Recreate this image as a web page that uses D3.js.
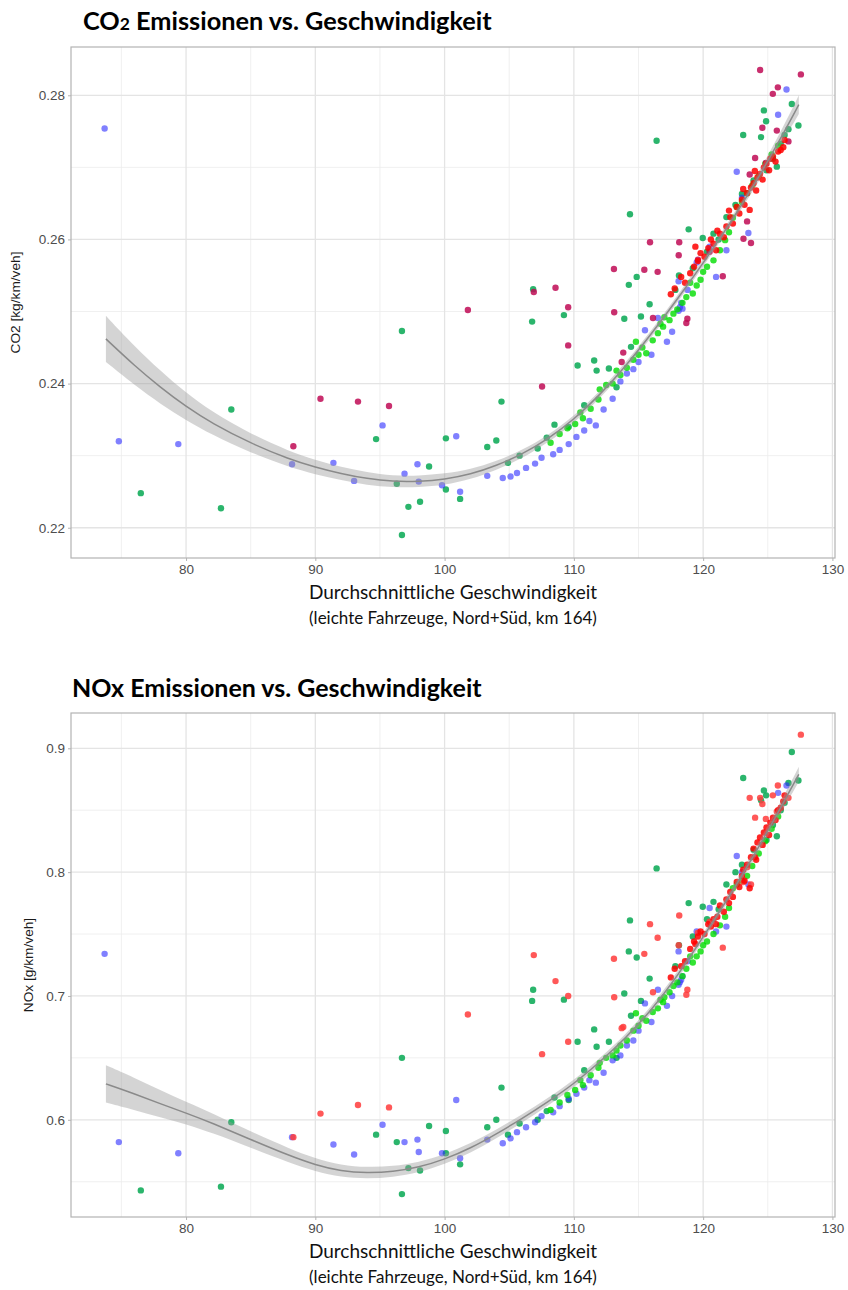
<!DOCTYPE html>
<html>
<head>
<meta charset="utf-8">
<script src="https://cdn.jsdelivr.net/npm/d3@7"></script>
<style>
  body { margin: 0; background: #fff; }
</style>
</head>
<body>
<svg id="chart" width="848" height="1290"></svg>
<script>
// each point: [speed km/h, CO2 kg/km/veh, NOx g/km/veh]
const bluePts = [
  [73.7, .2754, .734], [74.8, .2320, .582], [79.4, .2316, .573], [88.2, .2288, .586],
  [91.4, .2290, .580], [93.0, .2265, .572], [95.2, .2342, .596], [96.9, .2275, .582],
  [97.9, .2288, .584], [98.0, .2264, .574], [99.8, .2259, .573], [100.9, .2327, .616],
  [101.2, .2250, .569], [103.3, .2272, .584], [104.5, .2269, .581], [105.1, .2271, .585],
  [105.6, .2276, .590], [106.3, .2283, .594], [107.0, .2289, .598], [107.5, .2297, .603],
  [108.4, .2302, .606], [108.9, .2308, .611], [109.6, .2316, .617], [110.2, .2326, .621],
  [110.8, .2335, .626], [111.2, .2348, .632], [111.7, .2342, .630], [112.3, .2364, .638],
  [113.0, .2379, .648], [113.6, .2403, .652], [114.1, .2414, .660], [114.6, .2420, .664],
  [115.0, .2430, .672], [115.5, .2474, .694], [116.0, .2440, .679], [116.5, .2491, .705],
  [117.2, .2458, .692], [117.6, .2472, .700], [118.1, .2542, .736], [118.4, .2504, .716],
  [118.8, .2530, .728], [119.5, .2568, .752], [121.0, .2548, .752], [121.8, .2585, .756],
  [120.5, .2590, .771], [122.6, .2694, .813], [123.0, .2658, .800], [123.5, .2609, .790],
  [125.8, .2773, .864], [126.45, .2808, .870], [118.2, .2506, .711], [118.3, .2512, .713],
  [118.1, .2501, .709]
];
const greenPts = [
  [76.5, .2248, .543], [82.7, .2227, .546], [83.5, .2364, .598], [94.7, .2323, .588],
  [96.3, .2261, .582], [96.7, .2473, .650], [97.2, .2229, .561], [96.7, .2190, .540],
  [98.1, .2236, .559], [98.8, .2285, .595], [100.1, .2324, .591], [100.1, .2253, .573],
  [101.2, .2240, .564], [103.3, .2312, .594], [104.0, .2321, .600], [104.4, .2375, .626],
  [104.9, .2290, .588], [105.8, .2300, .597], [106.77, .2486, .696], [106.85, .2531, .705],
  [107.2, .2310, .600], [107.9, .2325, .607], [108.5, .2343, .618], [109.23, .2495, .697],
  [109.6, .2340, .616], [110.29, .2425, .663], [110.8, .2370, .640], [111.57, .2432, .673],
  [111.76, .2418, .659], [112.71, .2421, .663], [113.3, .2395, .650], [113.9, .2490, .702],
  [114.25, .2537, .736], [114.34, .2635, .761], [114.42, .2451, .684], [114.86, .2548, .731],
  [115.19, .2493, .696], [115.86, .2510, .714], [116.4, .2737, .803], [117.85, .2530, .724],
  [118.13, .2550, .741], [118.88, .2614, .775], [119.97, .2602, .772], [123.1, .2745, .876],
  [124.48, .2742, .858], [124.87, .2764, .862], [124.7, .2779, .866], [126.86, .2788, .897],
  [127.37, .2758, .874], [126.6, .2753, .872], [121.8, .2631, .790], [122.5, .2648, .800],
  [123.0, .2663, .806], [123.9, .2682, .818], [124.9, .2696, .826], [125.4, .2712, .838],
  [125.7, .2701, .829], [126.0, .2733, .850], [126.3, .2745, .856], [120.8, .2608, .776],
  [121.2, .2600, .770], [120.3, .2583, .762], [119.2, .2560, .748]
];
const limePts = [
  [108.2, .2318, .608], [108.9, .2330, .614], [109.5, .2338, .620], [110.1, .2344, .624],
  [110.7, .2352, .628], [111.3, .2365, .636], [111.9, .2378, .642], [112.5, .2398, .650],
  [113.0, .2400, .652], [113.6, .2412, .660], [114.1, .2422, .664], [114.6, .2433, .672],
  [115.0, .2440, .676], [115.6, .2442, .680], [116.1, .2460, .687], [116.5, .2470, .690],
  [116.9, .2479, .695], [117.4, .2488, .703], [117.7, .2497, .708], [118.0, .2503, .711],
  [118.4, .2512, .716], [118.7, .2520, .722], [119.2, .2525, .727], [119.5, .2536, .732],
  [119.8, .2544, .736], [120.3, .2562, .744], [120.8, .2571, .750], [121.3, .2585, .757],
  [121.7, .2599, .764], [122.0, .2610, .771], [122.3, .2630, .787], [122.6, .2645, .790],
  [123.0, .2652, .793], [123.4, .2664, .797], [123.8, .2675, .805], [124.3, .2688, .815],
  [124.8, .2705, .825], [125.3, .2718, .835], [125.8, .2730, .845], [117.0, .2492, .699],
  [115.3, .2450, .682], [113.3, .2418, .656], [112.0, .2392, .646], [110.5, .2360, .632],
  [114.8, .2458, .686], [116.7, .2483, .697], [119.0, .2540, .732], [120.0, .2555, .741]
];
const outlierPts = [
  [88.3, .2313, .586], [90.4, .2379, .605], [93.3, .2375, .612], [95.7, .2369, .610],
  [101.8, .2502, .685], [106.9, .2527, .733], [108.58, .2533, .712], [109.56, .2506, .700],
  [109.56, .2453, .663], [107.54, .2396, .653], [113.12, .2499, .699], [113.1, .2559, .730],
  [115.45, .2558, .734], [115.89, .2596, .758], [116.48, .2555, .747], [116.12, .2491, .703],
  [113.82, .2443, .675], [118.15, .2596, .765], [118.11, .2578, .741], [118.78, .2490, .705],
  [118.7, .2484, .701], [124.02, .2713, .844], [124.58, .2755, .855], [125.7, .2751, .849],
  [124.41, .2835, .860], [127.56, .2829, .911], [125.78, .2811, .870], [125.39, .2802, .862],
  [126.6, .2736, .860], [124.85, .2706, .843], [123.12, .2601, .792], [121.52, .2549, .739],
  [123.4, .2625, .804], [123.7, .2595, .790], [120.5, .2583, .760], [119.6, .2572, .751],
  [113.7, .2430, .674], [123.6, .2690, .860]
];
const redPts = [
  [118.6, .2540, .728], [119.0, .2553, .738], [119.3, .2562, .744], [119.6, .2570, .748],
  [119.8, .2581, .752], [120.1, .2576, .750], [120.4, .2588, .758], [120.8, .2594, .762],
  [121.0, .2585, .758], [121.3, .2608, .773], [121.6, .2603, .768], [121.8, .2618, .778],
  [122.1, .2631, .784], [122.3, .2622, .780], [122.6, .2645, .792], [122.8, .2636, .788],
  [123.0, .2655, .797], [123.2, .2648, .793], [123.4, .2664, .806], [123.6, .2641, .787],
  [123.7, .2672, .812], [123.9, .2678, .819], [124.1, .2668, .810], [124.2, .2686, .824],
  [124.4, .2691, .828], [124.6, .2683, .822], [124.7, .2700, .832], [124.9, .2705, .836],
  [125.1, .2696, .830], [125.2, .2712, .840], [125.4, .2715, .844], [125.6, .2708, .842],
  [125.8, .2722, .850], [126.0, .2724, .852], [126.2, .2728, .857], [126.3, .2738, .862],
  [121.1, .2612, .764], [122.0, .2640, .775], [123.1, .2670, .802], [124.0, .2695, .812],
  [120.6, .2600, .756], [119.4, .2590, .742], [118.3, .2548, .724], [117.8, .2532, .722],
  [117.5, .2524, .715]
];

// smoother: fit and half-width of the grey band
const fitSpeed = [73.8, 76, 78, 80, 82, 85, 88, 90, 92, 94, 96, 98, 100, 102, 104, 106, 108, 110, 112, 114, 116, 118, 120, 122, 124, 126, 127.4];
const co2Fit = [.2462, .2425, .2395, .2368, .2345, .2317, .2295, .2284, .2275, .2268, .2264, .2264, .2267, .2274, .2286, .2302, .2323, .2350, .2384, .2424, .2469, .2517, .2567, .2620, .2677, .2740, .2787];
const co2Se  = [.0032, .0027, .0023, .0019, .0016, .0013, .0011, .0010, .0009, .0009, .0008, .0008, .0008, .0007, .0006, .0006, .0005, .0005, .0005, .0005, .0005, .0005, .0005, .0005, .0006, .0009, .0013];
const noxFit = [.629, .621, .613, .6055, .5975, .584, .571, .5635, .5585, .557, .558, .5615, .568, .577, .5885, .601, .6145, .629, .6465, .666, .6885, .716, .7475, .780, .8145, .852, .879];
const noxSe  = [.015, .013, .011, .009, .008, .0065, .0057, .0052, .0049, .0046, .0044, .0042, .004, .0038, .0035, .0033, .003, .003, .003, .003, .003, .003, .003, .0033, .0038, .0048, .006];

const xTicks = [80, 90, 100, 110, 120, 130];
const xMinor = [75, 85, 95, 105, 115, 125];
const co2Ticks = [0.22, 0.24, 0.26, 0.28];
const co2Minor = [0.23, 0.25, 0.27];
const noxTicks = [0.6, 0.7, 0.8, 0.9];
const noxMinor = [0.55, 0.65, 0.75, 0.85];

const svg = d3.select('#chart');
const left = 71, right = 835;

const x = d3.scaleLinear().domain([71.1, 130.2]).range([left, right]);

const groups = [
  { pts: greenPts, fill: '#14ad5c', op: 0.9 },
  { pts: bluePts, fill: '#2b2bff', op: 0.6 },
  { pts: limePts, fill: '#00dd00', op: 0.8 },
  { pts: outlierPts, fill: null, op: 0.85 },
  { pts: redPts, fill: '#ff0000', op: 0.85 }
];

function drawPanel(o) {
  const y = d3.scaleLinear().domain(o.domain).range([o.bottom, o.top]);
  const g = svg.append('g');

  g.append('rect')
    .attr('x', left).attr('y', o.top)
    .attr('width', right - left).attr('height', o.bottom - o.top)
    .attr('fill', '#fff');

  // grid
  g.selectAll('.xmin').data(xMinor).enter().append('line')
    .attr('x1', d => x(d)).attr('x2', d => x(d))
    .attr('y1', o.top).attr('y2', o.bottom)
    .attr('stroke', '#ececec').attr('stroke-width', 0.8);
  g.selectAll('.ymin').data(o.minor).enter().append('line')
    .attr('x1', left).attr('x2', right)
    .attr('y1', d => y(d)).attr('y2', d => y(d))
    .attr('stroke', '#ececec').attr('stroke-width', 0.8);
  g.selectAll('.xmaj').data(xTicks).enter().append('line')
    .attr('x1', d => x(d)).attr('x2', d => x(d))
    .attr('y1', o.top).attr('y2', o.bottom)
    .attr('stroke', '#e4e4e4').attr('stroke-width', 1.3);
  g.selectAll('.ymaj').data(o.ticks).enter().append('line')
    .attr('x1', left).attr('x2', right)
    .attr('y1', d => y(d)).attr('y2', d => y(d))
    .attr('stroke', '#e4e4e4').attr('stroke-width', 1.3);

  const clipId = 'clip' + o.idx;
  svg.append('clipPath').attr('id', clipId).append('rect')
    .attr('x', left).attr('y', o.top)
    .attr('width', right - left).attr('height', o.bottom - o.top);

  const plot = g.append('g').attr('clip-path', `url(#${clipId})`);

  groups.forEach(grp => {
    plot.append('g').selectAll('circle')
      .data(grp.pts).enter().append('circle')
      .attr('cx', d => x(d[0]))
      .attr('cy', d => y(d[o.idx]))
      .attr('r', 3.2)
      .attr('fill', grp.fill || o.outlierFill)
      .attr('fill-opacity', grp.op);
  });

  // smoother band + line
  const fit = fitSpeed.map((s, i) => [s, o.fit[i], o.se[i]]);
  const band = d3.area()
    .x(d => x(d[0]))
    .y0(d => y(d[1] - d[2]))
    .y1(d => y(d[1] + d[2]))
    .curve(d3.curveBasis);
  plot.append('path')
    .attr('d', band(fit))
    .attr('fill', '#999999').attr('fill-opacity', 0.42);
  plot.append('path')
    .attr('d', d3.line().x(d => x(d[0])).y(d => y(d[1])).curve(d3.curveBasis)(fit))
    .attr('fill', 'none').attr('stroke', '#8a8a8a').attr('stroke-width', 1.5);

  // border
  g.append('rect')
    .attr('x', left).attr('y', o.top)
    .attr('width', right - left).attr('height', o.bottom - o.top)
    .attr('fill', 'none').attr('stroke', '#b3b3b3').attr('stroke-width', 1.2);

  // axes
  const xAxis = g.append('g').attr('transform', `translate(0,${o.bottom})`)
    .call(d3.axisBottom(x).tickValues(xTicks).tickSize(3).tickPadding(3).tickFormat(d3.format('d')));
  const yAxis = g.append('g').attr('transform', `translate(${left},0)`)
    .call(d3.axisLeft(y).tickValues(o.ticks).tickSize(3).tickPadding(3).tickFormat(o.fmt));
  [xAxis, yAxis].forEach(a => {
    a.select('.domain').remove();
    a.selectAll('line').attr('stroke', '#b3b3b3');
    a.selectAll('text')
      .attr('fill', '#4d4d4d')
      .style('font-family', '"Liberation Sans", Arial, sans-serif')
      .style('font-size', '13.5px');
  });

  // titles
  g.append('text')
    .attr('transform', `translate(${o.ylabX},${(o.top + o.bottom) / 2}) rotate(-90)`)
    .attr('text-anchor', 'middle')
    .style('font-family', '"Liberation Sans", Arial, sans-serif')
    .style('font-size', '13.7px')
    .attr('fill', '#1a1a1a')
    .text(o.ylab);

  const cx = (left + right) / 2;
  g.append('text')
    .attr('x', cx).attr('y', o.bottom + 41)
    .attr('text-anchor', 'middle')
    .style('font-family', 'Lato, sans-serif').style('font-size', '19px')
    .attr('fill', '#111')
    .text('Durchschnittliche Geschwindigkeit');
  g.append('text')
    .attr('x', cx).attr('y', o.bottom + 66)
    .attr('text-anchor', 'middle')
    .style('font-family', 'Lato, sans-serif').style('font-size', '17px')
    .attr('fill', '#111')
    .text('(leichte Fahrzeuge, Nord+Süd, km 164)');
}

// chart titles
const t1 = svg.append('text')
  .attr('x', 83).attr('y', 30)
  .style('font-family', 'Lato, sans-serif').style('font-size', '25.3px')
  .style('font-weight', 'bold').attr('fill', '#000');
t1.append('tspan').text('CO');
t1.append('tspan').style('font-size', '17.5px').text('2');
t1.append('tspan').text(' Emissionen vs. Geschwindigkeit');

svg.append('text')
  .attr('x', 72).attr('y', 697)
  .style('font-family', 'Lato, sans-serif').style('font-size', '25px')
  .style('font-weight', 'bold').attr('fill', '#000')
  .text('NOx Emissionen vs. Geschwindigkeit');

drawPanel({
  idx: 1, top: 47, bottom: 558, domain: [0.2158, 0.2867],
  ticks: co2Ticks, minor: co2Minor, fmt: d3.format('.2f'),
  fit: co2Fit, se: co2Se, outlierFill: '#bf0a55',
  ylab: 'CO2 [kg/km/veh]', ylabX: 20
});
drawPanel({
  idx: 2, top: 713, bottom: 1217, domain: [0.5215, 0.9285],
  ticks: noxTicks, minor: noxMinor, fmt: d3.format('.1f'),
  fit: noxFit, se: noxSe, outlierFill: '#ff3b3b',
  ylab: 'NOx [g/km/veh]', ylabX: 33
});
</script>
</body>
</html>
